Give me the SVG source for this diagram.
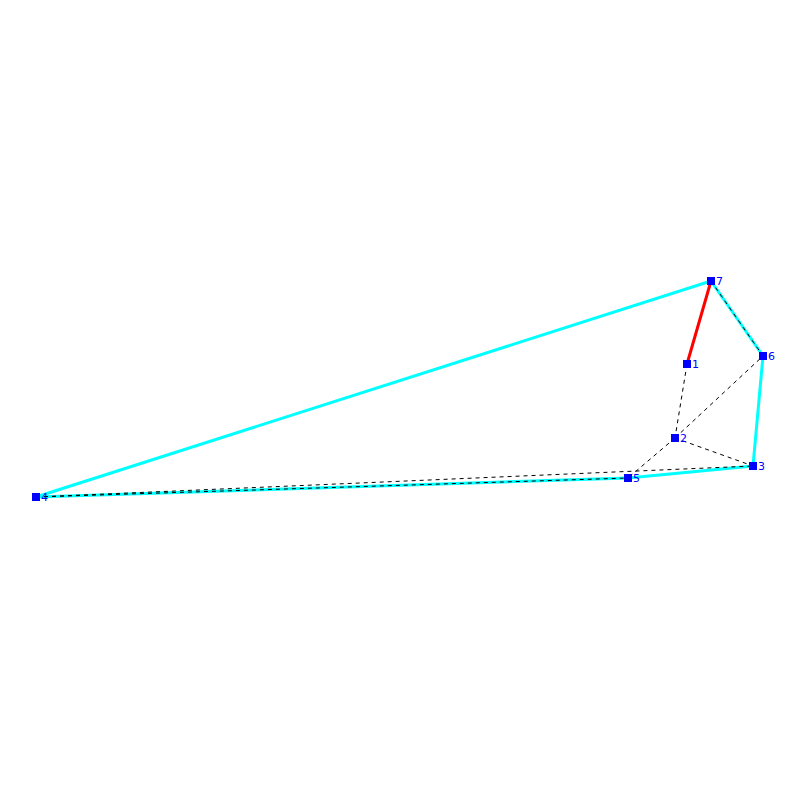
<svg xmlns="http://www.w3.org/2000/svg" width="800" height="800" viewBox="0 0 800 800">
<style>
.hull{stroke:#00ffff;stroke-width:3;fill:none}
.red{stroke:#ff0000;stroke-width:3;fill:none}
.dash{stroke:#000;stroke-width:1;stroke-dasharray:4,4;fill:none}
.n rect{fill:#0000ff}
.n text{fill:#0000ff;font-family:"DejaVu Sans",sans-serif;font-size:11px}
</style>
<rect width="800" height="800" fill="#fff"/>
<g id="connectors">
<line class="hull" x1="36" y1="497" x2="711" y2="281"/>
<line class="hull" x1="711" y1="281" x2="763" y2="356"/>
<line class="hull" x1="763" y1="356" x2="753" y2="466"/>
<line class="hull" x1="753" y1="466" x2="628" y2="478"/>
<line class="hull" x1="628" y1="478" x2="36" y2="497"/>
<line class="red" x1="711" y1="281" x2="687" y2="364"/>
<line class="dash" x1="687" y1="364" x2="675" y2="438"/>
<line class="dash" x1="675" y1="438" x2="763" y2="356"/>
<line class="dash" x1="675" y1="438" x2="753" y2="466"/>
<line class="dash" x1="675" y1="438" x2="628" y2="478"/>
<line class="dash" x1="711" y1="281" x2="763" y2="356"/>
<line class="dash" x1="36" y1="497" x2="628" y2="478"/>
<line class="dash" x1="36" y1="497" x2="753" y2="466"/>
</g>
<g id="n1" class="n"><rect x="683" y="360" width="8" height="8"/><text x="692" y="368">1</text></g>
<g id="n2" class="n"><rect x="671" y="434" width="8" height="8"/><text x="680" y="442">2</text></g>
<g id="n3" class="n"><rect x="749" y="462" width="8" height="8"/><text x="758" y="470">3</text></g>
<g id="n4" class="n"><rect x="32" y="493" width="8" height="8"/><text x="41" y="501">4</text></g>
<g id="n5" class="n"><rect x="624" y="474" width="8" height="8"/><text x="633" y="482">5</text></g>
<g id="n6" class="n"><rect x="759" y="352" width="8" height="8"/><text x="768" y="360">6</text></g>
<g id="n7" class="n"><rect x="707" y="277" width="8" height="8"/><text x="716" y="285">7</text></g>
</svg>
